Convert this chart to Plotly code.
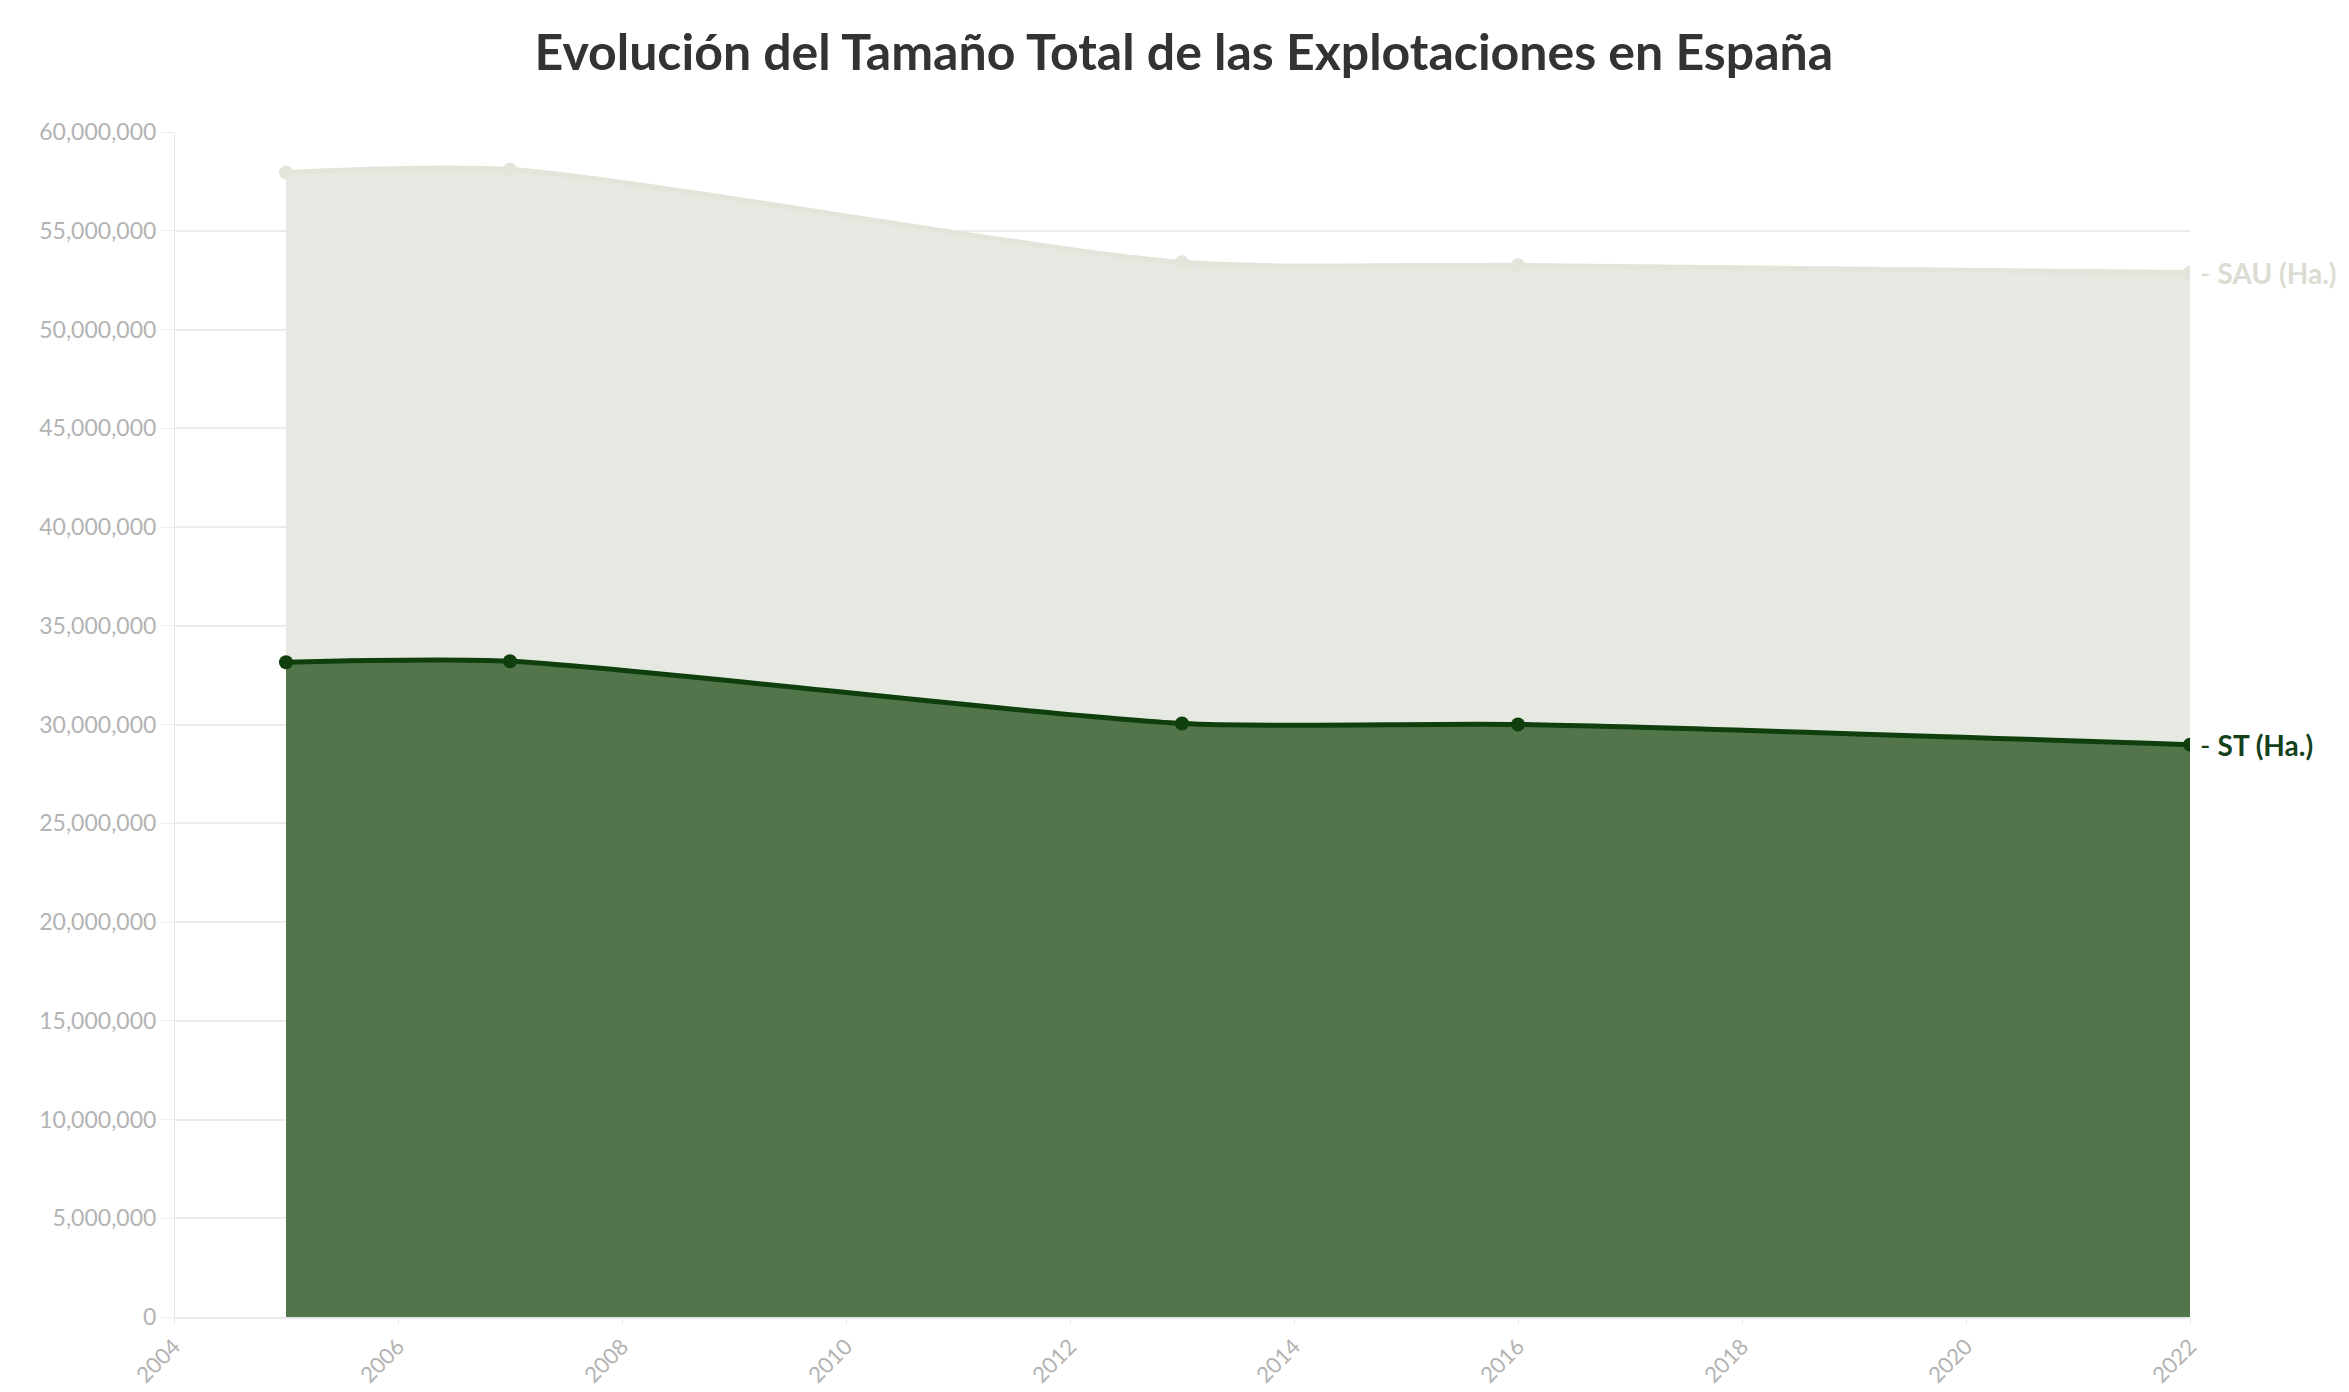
import plotly.graph_objects as go

# años del censo / encuesta de estructura
years = [2005, 2007, 2013, 2016, 2022]
st_ha = [33150000, 33200000, 30050000, 30000000, 28980000]
sau_ha = [24800000, 24900000, 23350000, 23250000, 23900000]

x_ticks = list(range(2004, 2023, 2))
y_ticks = list(range(0, 60000001, 5000000))

font_family = "Lato, 'Open Sans', sans-serif"

fig = go.Figure()

fig.add_trace(go.Scatter(
    x=years, y=st_ha, name="ST (Ha.)",
    stackgroup="one", mode="lines+markers",
    line=dict(color="#0f3f0c", width=5, shape="spline", smoothing=0.7),
    marker=dict(size=14, color="#0f3f0c"),
    fillcolor="#52754c",
))

fig.add_trace(go.Scatter(
    x=years, y=sau_ha, name="SAU (Ha.)",
    stackgroup="one", mode="lines+markers",
    line=dict(color="#e4e4da", width=5, shape="spline", smoothing=0.7),
    marker=dict(size=14, color="#e4e4da"),
    fillcolor="#e6e9e1",
))

# etiquetas al final de cada serie
fig.add_annotation(x=years[-1], y=st_ha[-1], text="- <b>ST (Ha.)</b>",
                   xanchor="left", yanchor="middle", showarrow=False, xshift=8,
                   font=dict(size=28, color="#14401a", family=font_family))
fig.add_annotation(x=years[-1], y=st_ha[-1] + sau_ha[-1], text="- <b>SAU (Ha.)</b>",
                   xanchor="left", yanchor="middle", showarrow=False, xshift=8,
                   font=dict(size=28, color="#dcdcd2", family=font_family))

fig.update_layout(
    width=2333, height=1384,
    paper_bgcolor="white", plot_bgcolor="white",
    showlegend=False,
    margin=dict(l=166, r=151, t=124, b=75),
    font=dict(family=font_family),
    title=dict(text="<b>Evolución del Tamaño Total de las Explotaciones en España</b>",
               x=0.504, xanchor="center", y=0.968, yanchor="middle",
               font=dict(size=50, color="#333333", family=font_family)),
)

fig.update_xaxes(
    range=[2004, 2022], tickvals=x_ticks, tickangle=-45, automargin=False,
    showgrid=False, showline=True, linecolor="#e8e8e8", linewidth=2,
    ticks="outside", ticklen=6, tickcolor="#e8e8e8",
    tickfont=dict(size=22, color="#b3b3b3"), zeroline=False,
)
fig.update_yaxes(
    range=[0, 60000000], tickvals=y_ticks, tickformat=",d", automargin=False,
    showgrid=True, gridcolor="#ececec", gridwidth=2,
    showline=False, zeroline=False,
    ticks="outside", ticklen=12, tickcolor="#ececec",
    tickfont=dict(size=23, color="#b3b3b3"),
)

# eje vertical claro en x=2004
fig.add_vline(x=2004, line=dict(color="#e8e8e8", width=2))

fig.write_html("out.html")
